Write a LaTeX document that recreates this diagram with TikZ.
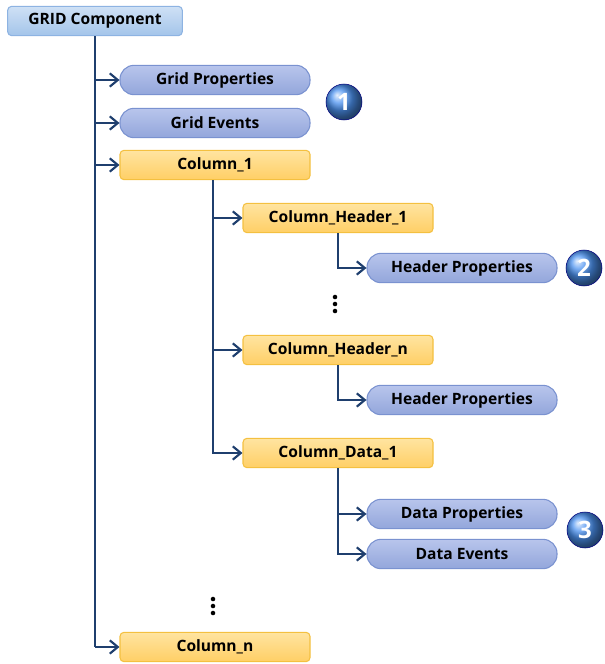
\documentclass[tikz,border=0pt]{standalone}
\usepackage{fontspec}
\setmainfont{Open Sans}
\usetikzlibrary{arrows.meta,shadings}

\definecolor{linkcol}{HTML}{1F3F6E}
\definecolor{gridtop}{HTML}{CFE1F5}
\definecolor{gridbot}{HTML}{A3C4EA}
\definecolor{gridline}{HTML}{8DB3E2}
\definecolor{proptop}{HTML}{B8C5EC}
\definecolor{propbot}{HTML}{93A6DB}
\definecolor{propline}{HTML}{7A92D0}
\definecolor{coltop}{HTML}{FFE4A0}
\definecolor{colbot}{HTML}{FFCF66}
\definecolor{colline}{HTML}{F4C040}
\definecolor{badgecol}{HTML}{4C92F0}

\tikzset{
  box/.style={draw, line width=0.8pt, minimum width=142.5pt, minimum height=22pt,
    inner sep=0pt, font=\fontsize{11.7}{13}\selectfont\bfseries, text=black},
  rootbox/.style={box, top color=gridtop, bottom color=gridbot, draw=gridline,
    rounded corners=3pt, minimum width=131pt},
  propbox/.style={box, top color=proptop, bottom color=propbot, draw=propline,
    rounded corners=10.5pt},
  colbox/.style={box, top color=coltop, bottom color=colbot, draw=colline,
    rounded corners=3pt},
  link/.style={draw=linkcol, line width=2.1pt, -{Straight Barb[length=6pt,width=10pt,line width=1.6pt]}},
  trunk/.style={draw=linkcol, line width=2.1pt},
  badge/.style={circle, minimum size=27pt, inner sep=0pt, shading=ball, ball color=badgecol,
    draw=blue!50!black, line width=0.4pt, text=white, font=\fontsize{18}{18}\selectfont\bfseries}
}

\begin{document}
\begin{tikzpicture}[x=0.75pt, y=-0.75pt]
\useasboundingbox (0,0) rectangle (605,664);

\node (grid) at (95,21) [rootbox] {GRID Component};
\node (gprop) at (215,80) [propbox] {Grid Properties};
\node (gevt) at (215,123) [propbox] {Grid Events};
\node (col1) at (215,165) [colbox] {Column\_1};
\node (colN) at (215,647) [colbox] {Column\_n};

\node (hdr1) at (338,218) [colbox] {Column\_Header\_1};
\node (hprop1) at (462,268) [propbox] {Header Properties};
\node (hdrN) at (338,350) [colbox] {Column\_Header\_n};
\node (hpropN) at (462,400) [propbox] {Header Properties};
\node (data1) at (338,453) [colbox] {Column\_Data\_1};
\node (dprop) at (462,514) [propbox] {Data Properties};
\node (devt) at (462,554) [propbox] {Data Events};

\foreach \y in {297,304,311} \fill (335,\y) circle (1.7pt);
\foreach \y in {599,606,613} \fill (213,\y) circle (1.7pt);

\node (one) at (344,102) [badge] {1};
\node (two) at (584,268) [badge] {2};
\node (three) at (585,530) [badge] {3};

\draw [trunk] (grid.south) -- (grid.south |- colN.west);
\draw [link] (grid.south |- gprop.west) -- (gprop.west);
\draw [link] (grid.south |- gevt.west) -- (gevt.west);
\draw [link] (grid.south |- col1.west) -- (col1.west);
\draw [link] (grid.south |- colN.west) -- (colN.west);

\draw [trunk] (col1.south -| 213,0) -- (213,453);
\draw [link] (col1.south -| 213,0) |- (hdr1.west);
\draw [link] (col1.south -| 213,0) |- (hdrN.west);
\draw [link] (col1.south -| 213,0) |- (data1.west);

\draw [link] (hdr1.south) |- (hprop1.west);
\draw [link] (hdrN.south) |- (hpropN.west);
\draw [link] (data1.south) |- (dprop.west);
\draw [link] (data1.south) |- (devt.west);

\end{tikzpicture}
\end{document}
